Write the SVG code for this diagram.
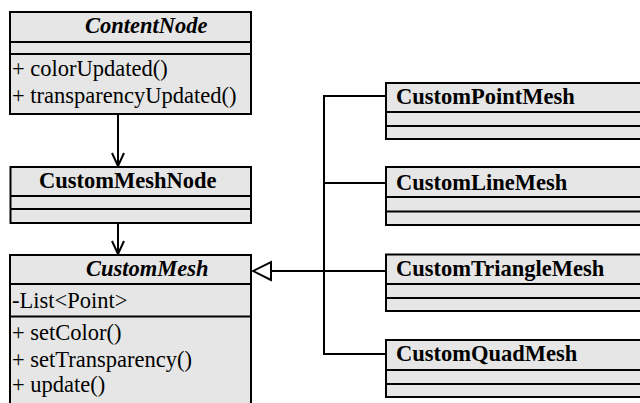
<svg xmlns="http://www.w3.org/2000/svg" width="640" height="403" viewBox="0 0 640 403">
<style>
.box{fill:#e6e6e6;stroke:#000;stroke-width:2}
.ln{stroke:#000;stroke-width:2;fill:none}
text{font-family:'Liberation Serif','DejaVu Serif',serif;font-size:22.5px;fill:#000}
.b{font-weight:bold}
.i{font-style:italic}
</style>
<defs>
<marker id="open" markerWidth="16" markerHeight="16" viewBox="0 0 16 16" refX="14" refY="8" orient="auto" markerUnits="userSpaceOnUse">
<path d="M1,2 L14,8 L1,14" fill="none" stroke="#000" stroke-width="2"/>
</marker>
<marker id="tri" markerWidth="22" markerHeight="22" viewBox="0 0 22 22" refX="20" refY="11" orient="auto" markerUnits="userSpaceOnUse">
<path d="M2,2 L20,11 L2,20 Z" fill="#fff" stroke="#000" stroke-width="2"/>
</marker>
</defs>
<g id="connectors">
<line class="ln" x1="118" y1="114" x2="118" y2="166" marker-end="url(#open)"/>
<line class="ln" x1="118" y1="223" x2="118" y2="254" marker-end="url(#open)"/>
<path class="ln" d="M386,96 H324 V354 H386"/>
<line class="ln" x1="324" y1="183" x2="386" y2="183"/>
<line class="ln" x1="386" y1="271" x2="253" y2="271" marker-end="url(#tri)"/>
</g>
<g id="ContentNode">
<rect class="box" x="10" y="12" width="241" height="102"/>
<line class="ln" x1="10" y1="42" x2="251" y2="42"/>
<line class="ln" x1="10" y1="54" x2="251" y2="54"/>
<text class="b i" x="85" y="33">ContentNode</text>
<text x="12" y="76">+ colorUpdated()</text>
<text x="12" y="102.5">+ transparencyUpdated()</text>
</g>
<g id="CustomMeshNode">
<rect class="box" x="10.5" y="167" width="240.5" height="56"/>
<line class="ln" x1="10.5" y1="196" x2="251" y2="196"/>
<line class="ln" x1="10.5" y1="209" x2="251" y2="209"/>
<text class="b" x="39" y="188">CustomMeshNode</text>
</g>
<g id="CustomMesh">
<rect class="box" x="10" y="255" width="241" height="160"/>
<line class="ln" x1="10" y1="284" x2="251" y2="284"/>
<line class="ln" x1="10" y1="316.5" x2="251" y2="316.5"/>
<text class="b i" x="86" y="276">CustomMesh</text>
<text x="12" y="308">-List&lt;Point&gt;</text>
<text x="12" y="340">+ setColor()</text>
<text x="12" y="366.5">+ setTransparency()</text>
<text x="12" y="392">+ update()</text>
</g>
<g id="CustomPointMesh">
<rect class="box" x="386" y="83" width="270" height="56"/>
<line class="ln" x1="386" y1="112" x2="656" y2="112"/>
<line class="ln" x1="386" y1="126" x2="656" y2="126"/>
<text class="b" x="396" y="103.5">CustomPointMesh</text>
</g>
<g id="CustomLineMesh">
<rect class="box" x="386" y="167" width="270" height="58"/>
<line class="ln" x1="386" y1="197" x2="656" y2="197"/>
<line class="ln" x1="386" y1="211.5" x2="656" y2="211.5"/>
<text class="b" x="396" y="190">CustomLineMesh</text>
</g>
<g id="CustomTriangleMesh">
<rect class="box" x="386" y="254.5" width="270" height="56.5"/>
<line class="ln" x1="386" y1="284" x2="656" y2="284"/>
<line class="ln" x1="386" y1="298" x2="656" y2="298"/>
<text class="b" x="396" y="276">CustomTriangleMesh</text>
</g>
<g id="CustomQuadMesh">
<rect class="box" x="386" y="340" width="270" height="57"/>
<line class="ln" x1="386" y1="370" x2="656" y2="370"/>
<line class="ln" x1="386" y1="384" x2="656" y2="384"/>
<text class="b" x="396" y="361">CustomQuadMesh</text>
</g>
</svg>
